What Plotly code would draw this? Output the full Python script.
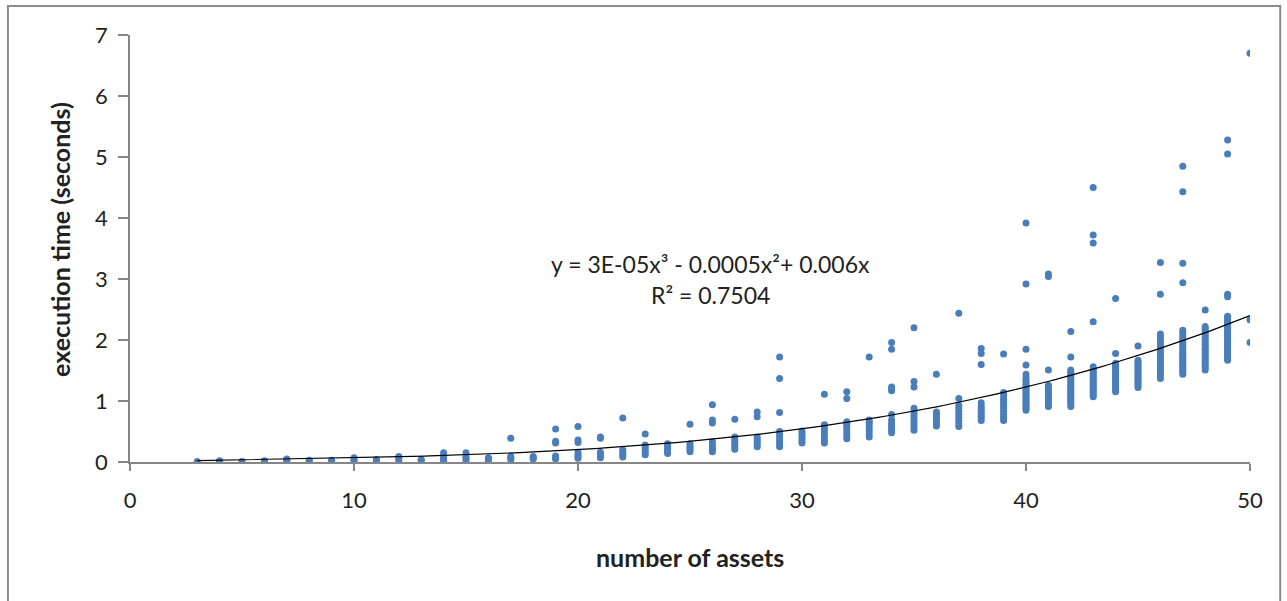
import numpy as np
import plotly.graph_objects as go

# Execution time (seconds) measured for each portfolio size (number of assets)
t03 = [0.01]
t04 = [0.01, 0.02]
t05 = [0.01]
t06 = [0.01, 0.02]
t07 = [0.02, 0.03, 0.05]
t08 = [0.02, 0.03]
t09 = [0.02, 0.03]
t10 = [0.02, 0.04, 0.07]
t11 = [0.03, 0.04]
t12 = [0.03, 0.06, 0.09]
t13 = [0.03, 0.04]
t14 = [0.02, 0.05, 0.09, 0.15]
t15 = [0.03, 0.06, 0.09, 0.15]
t16 = [0.03, 0.05, 0.07]
t17 = [0.04, 0.07, 0.09, 0.39]
t18 = [0.05, 0.07, 0.09]
t19 = [0.05, 0.07, 0.10, 0.31, 0.34, 0.54]
t20 = [0.06, 0.09, 0.12, 0.16, 0.32, 0.36, 0.58]
t21 = [0.07, 0.10, 0.13, 0.16, 0.39, 0.41]
t22 = [0.08, 0.11, 0.14, 0.18, 0.20, 0.72]
t23 = [0.12, 0.16, 0.20, 0.24, 0.28, 0.46]
t24 = [0.14, 0.17, 0.20, 0.23, 0.27, 0.30]
t25 = [0.17, 0.20, 0.23, 0.26, 0.30, 0.62]
t26 = [0.17, 0.20, 0.24, 0.28, 0.33, 0.64, 0.69, 0.94]
t27 = [0.21, 0.25, 0.29, 0.33, 0.37, 0.41, 0.70]
t28 = [0.25, 0.29, 0.33, 0.37, 0.41, 0.74, 0.82]
t29 = [0.25, 0.30, 0.35, 0.40, 0.45, 0.50, 0.81, 1.37, 1.72]
t30 = [0.31, 0.35, 0.39, 0.43, 0.47, 0.51]
t31 = [0.31, 0.36, 0.41, 0.46, 0.51, 0.56, 0.61, 1.11]
t32 = [0.38, 0.43, 0.48, 0.53, 0.58, 0.62, 0.66, 1.04, 1.15]
t33 = [0.41, 0.46, 0.51, 0.56, 0.61, 0.65, 0.69, 1.72]
t34 = [0.48, 0.52, 0.56, 0.60, 0.64, 0.69, 0.78, 1.17, 1.20, 1.23, 1.85, 1.96]
t35 = [0.52, 0.57, 0.62, 0.67, 0.72, 0.77, 0.82, 0.88, 1.23, 1.32, 2.20]
t36 = [0.59, 0.63, 0.67, 0.71, 0.75, 0.79, 0.82, 1.44]
t37 = [0.58, 0.63, 0.68, 0.73, 0.78, 0.83, 0.88, 0.93, 1.04, 2.44]
t38 = [0.68, 0.72, 0.76, 0.80, 0.84, 0.88, 0.92, 0.97, 1.60, 1.78, 1.86]
t39 = [0.68, 0.73, 0.78, 0.83, 0.88, 0.93, 0.98, 1.03, 1.08, 1.14, 1.77]
t40 = [0.85, 0.88, 0.91, 0.94, 0.97, 1.00, 1.03, 1.06, 1.09, 1.12, 1.15, 1.18, 1.21, 1.24, 1.27,
       1.31, 1.34, 1.38, 1.44, 1.59, 1.85, 2.92, 3.92]
t41 = [0.91, 0.94, 0.97, 1.00, 1.03, 1.06, 1.09, 1.12, 1.15, 1.18, 1.21, 1.24, 1.26, 1.51, 3.04, 3.08]
t42 = [0.91, 0.94, 0.97, 1.00, 1.03, 1.06, 1.09, 1.12, 1.15, 1.18, 1.21, 1.24, 1.27, 1.30, 1.33,
       1.36, 1.39, 1.42, 1.45, 1.48, 1.51, 1.72, 2.14]
t43 = [1.07, 1.10, 1.13, 1.16, 1.19, 1.22, 1.25, 1.28, 1.31, 1.34, 1.37, 1.40, 1.43, 1.46, 1.49,
       1.52, 1.56, 2.30, 3.59, 3.72, 4.50]
t44 = [1.15, 1.18, 1.21, 1.24, 1.27, 1.30, 1.33, 1.36, 1.39, 1.42, 1.45, 1.48, 1.51, 1.54, 1.57,
       1.60, 1.62, 1.78, 2.68]
t45 = [1.22, 1.25, 1.28, 1.31, 1.34, 1.37, 1.40, 1.43, 1.46, 1.49, 1.52, 1.55, 1.58, 1.61, 1.64,
       1.67, 1.90]
t46 = [1.37, 1.41, 1.45, 1.48, 1.52, 1.56, 1.60, 1.64, 1.68, 1.72, 1.76, 1.80, 1.84, 1.88, 1.92,
       1.96, 2.00, 2.05, 2.10, 2.75, 3.27]
t47 = [1.44, 1.47, 1.50, 1.53, 1.56, 1.59, 1.62, 1.65, 1.68, 1.71, 1.74, 1.77, 1.80, 1.84, 1.88,
       1.92, 1.96, 2.00, 2.04, 2.08, 2.12, 2.16, 2.94, 3.26, 4.43, 4.85]
t48 = [1.51, 1.55, 1.58, 1.62, 1.65, 1.69, 1.72, 1.76, 1.79, 1.83, 1.86, 1.90, 1.93, 1.97, 2.00,
       2.04, 2.08, 2.12, 2.15, 2.19, 2.22, 2.49]
t49 = [1.67, 1.70, 1.73, 1.76, 1.79, 1.82, 1.85, 1.88, 1.91, 1.94, 1.97, 2.00, 2.03, 2.06, 2.09,
       2.12, 2.15, 2.18, 2.21, 2.24, 2.27, 2.30, 2.33, 2.36, 2.39, 2.71, 2.75, 5.05, 5.28]
t50 = [1.96, 2.33, 6.70]

asset_counts = [3, 4, 5, 6, 7, 8, 9, 10, 11, 12, 13, 14, 15, 16, 17, 18, 19, 20, 21, 22, 23, 24, 25, 26,
                27, 28, 29, 30, 31, 32, 33, 34, 35, 36, 37, 38, 39, 40, 41, 42, 43, 44, 45, 46, 47, 48, 49, 50]
runs = [t03, t04, t05, t06, t07, t08, t09, t10, t11, t12, t13, t14, t15, t16, t17, t18, t19, t20, t21, t22,
        t23, t24, t25, t26, t27, t28, t29, t30, t31, t32, t33, t34, t35, t36, t37, t38, t39, t40, t41, t42,
        t43, t44, t45, t46, t47, t48, t49, t50]

equation_text = "y = 3E-05x³ - 0.0005x²+ 0.006x"
r2_text = "R² = 0.7504"

x_pts = np.array([n for n, ts in zip(asset_counts, runs) for _ in ts], dtype=float)
y_pts = np.array([t for ts in runs for t in ts], dtype=float)

# cubic polynomial trendline forced through the origin (least squares)
A = np.column_stack([x_pts ** 3, x_pts ** 2, x_pts])
coef, *_ = np.linalg.lstsq(A, y_pts, rcond=None)
x_fit = np.linspace(min(asset_counts), max(asset_counts), 200)
y_fit = coef[0] * x_fit ** 3 + coef[1] * x_fit ** 2 + coef[2] * x_fit

FONT = "Lato, 'Open Sans', sans-serif"
AXIS_GREY = "#868686"

fig = go.Figure()
fig.add_trace(go.Scatter(
    x=x_pts, y=y_pts, mode="markers",
    marker=dict(color="#4a7ebb", size=7, line=dict(width=0)),
    showlegend=False, hoverinfo="x+y",
))
fig.add_trace(go.Scatter(
    x=x_fit, y=y_fit, mode="lines",
    line=dict(color="black", width=1.2),
    showlegend=False, hoverinfo="skip",
))

fig.update_layout(
    width=1287, height=601,
    margin=dict(l=130, r=37, t=35, b=139),
    paper_bgcolor="white", plot_bgcolor="white",
    font=dict(family=FONT, size=22, color="#222222"),
    xaxis=dict(
        range=[0, 50], tick0=0, dtick=10, showgrid=False, zeroline=False,
        showline=True, linecolor=AXIS_GREY, linewidth=1.5,
        ticks="outside", ticklen=7, tickcolor=AXIS_GREY, tickwidth=1.5,
        tickfont=dict(size=22), ticklabelstandoff=11,
    ),
    yaxis=dict(
        range=[0, 7], tick0=0, dtick=1, showgrid=False, zeroline=False,
        showline=True, linecolor=AXIS_GREY, linewidth=1.5,
        ticks="outside", ticklen=10, tickcolor=AXIS_GREY, tickwidth=1.5,
        tickfont=dict(size=22), ticklabelstandoff=6,
    ),
    shapes=[dict(
        type="rect", xref="paper", yref="paper",
        x0=-0.109, x1=1.027, y0=-0.34, y1=1.068,
        line=dict(color="#8c8c8c", width=2), fillcolor="rgba(0,0,0,0)", layer="below",
    )],
    annotations=[
        dict(text=equation_text, x=25.9, y=3.25, xref="x", yref="y",
             showarrow=False, font=dict(size=23), xanchor="center", yanchor="middle"),
        dict(text=r2_text, x=25.9, y=2.74, xref="x", yref="y",
             showarrow=False, font=dict(size=23), xanchor="center", yanchor="middle"),
        dict(text="<b>execution time (seconds)</b>", x=-0.0625, y=0.52,
             xref="paper", yref="paper", textangle=-90, showarrow=False,
             font=dict(size=25), xanchor="center", yanchor="middle"),
        dict(text="<b>number of assets</b>", x=0.5, y=-0.2225,
             xref="paper", yref="paper", showarrow=False,
             font=dict(size=25), xanchor="center", yanchor="middle"),
    ],
)

fig.write_html("out.html")
